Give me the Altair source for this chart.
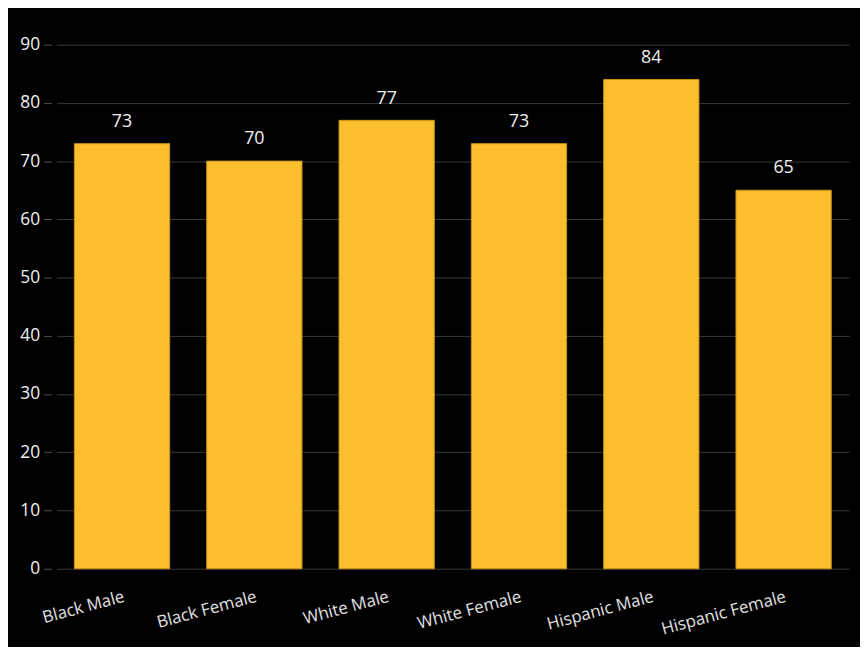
import altair as alt
import pandas as pd

categories = ["Black Male", "Black Female", "White Male", "White Female", "Hispanic Male", "Hispanic Female"]
values = [73, 70, 77, 73, 84, 65]

df = pd.DataFrame({"group": categories, "value": values})

FONT = "Open Sans"

base = alt.Chart(df).encode(
    x=alt.X("group:N", sort=categories, title=None,
            scale=alt.Scale(paddingInner=0.28, paddingOuter=0.135),
            axis=alt.Axis(labelAngle=-15, labelAlign="right", labelBaseline="top",
                          labelPadding=20, ticks=False, domain=False, grid=False,
                          labelColor="#e0e0e0", labelFontSize=17, labelFont=FONT)),
    y=alt.Y("value:Q", title=None,
            scale=alt.Scale(domain=[0, 90], nice=False),
            axis=alt.Axis(values=list(range(0, 91, 10)), domain=False, offset=5,
                          tickSize=8, tickColor="#555555", labelPadding=4,
                          gridColor="#3a3a3a", labelColor="#f0f0f0",
                          labelFontSize=17.5, labelFont=FONT)),
)

bars = base.mark_bar(color="#FBBF2E", stroke="#C9931A", strokeWidth=1)
text = base.mark_text(baseline="bottom", dy=-13, fontSize=18, color="#f0f0f0", font=FONT).encode(
    text="value:Q")

chart = (bars + text).properties(
    width=800, height=529, background="#000000",
    padding={"left": 49, "top": 34, "right": 11, "bottom": 76},
    autosize=alt.AutoSizeParams(type="none"),
).configure_view(stroke=None)

chart.save("out.html", embed_options={"renderer": "svg", "actions": False})
